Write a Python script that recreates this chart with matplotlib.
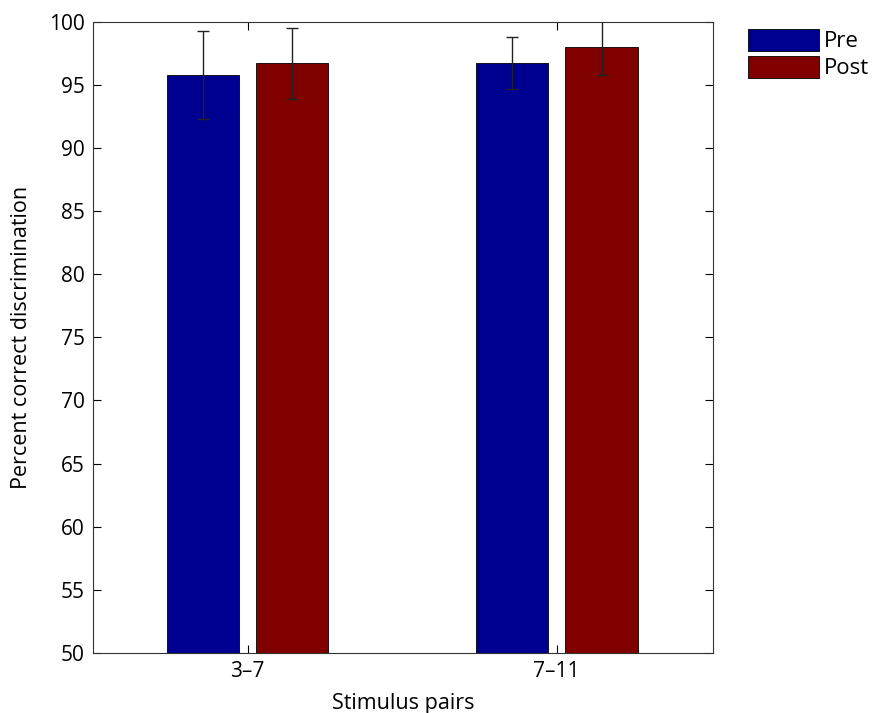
import matplotlib.pyplot as plt
import numpy as np

plt.rcParams['font.family'] = ['Open Sans', 'DejaVu Sans']

pairs = ['3\u20137', '7\u201311']
pre_mean = [95.8, 96.7]
pre_err = [3.5, 2.05]
post_mean = [96.7, 98.0]
post_err = [2.8, 2.2]

x = np.arange(1, len(pairs) + 1)
w = 0.233
off = 0.145

fig = plt.figure(figsize=(8.73, 7.13), dpi=100)
ax = fig.add_axes([0.1065, 0.0842, 0.710, 0.8854])

ax.bar(x - off, pre_mean, w, color='#000090', edgecolor='black', linewidth=0.6, label='Pre')
ax.bar(x + off, post_mean, w, color='#800000', edgecolor='black', linewidth=0.6, label='Post')
ax.errorbar(x - off, pre_mean, yerr=pre_err, fmt='none', ecolor='#222222', elinewidth=1, capsize=4, capthick=1)
ax.errorbar(x + off, post_mean, yerr=post_err, fmt='none', ecolor='#222222', elinewidth=1, capsize=4, capthick=1)

ax.set_xlim(0.5, 2.505)
ax.set_ylim(50, 100)
ax.set_yticks(np.arange(50, 101, 5))
ax.set_xticks(x)
ax.set_xticklabels(pairs)
ax.tick_params(direction='in', top=True, right=True, labelsize=15, length=6, width=0.8, pad=6)
for s in ax.spines.values():
    s.set_linewidth(0.8)
    s.set_color('#333333')

ax.set_xlabel('Stimulus pairs', fontsize=15.5, labelpad=8)
ax.set_ylabel('Percent correct discrimination', fontsize=15.5, labelpad=12)

ax.legend(loc='upper left', bbox_to_anchor=(1.043, 1.003), frameon=False, fontsize=16,
          handlelength=3.2, handleheight=1.15, handletextpad=0.2, labelspacing=0.15, borderaxespad=0)

fig.savefig('out.png', dpi=100)
